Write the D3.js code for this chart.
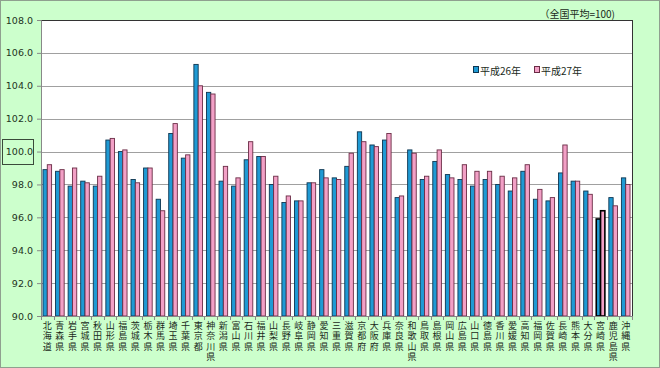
<!DOCTYPE html>
<html>
<head>
<meta charset="utf-8">
<script src="https://cdn.jsdelivr.net/npm/d3@7"></script>
<style>
  html, body { margin: 0; padding: 0; background: #fff; }
  svg { display: block; }
</style>
</head>
<body>
<svg id="chart" width="660" height="368"></svg>
<script>
// prefectures, in the order of the source chart
const prefectures = ["北海道","青森県","岩手県","宮城県","秋田県","山形県","福島県","茨城県","栃木県","群馬県",
	"埼玉県","千葉県","東京都","神奈川県","新潟県","富山県","石川県","福井県","山梨県","長野県",
	"岐阜県","静岡県","愛知県","三重県","滋賀県","京都府","大阪府","兵庫県","奈良県","和歌山県",
	"鳥取県","島根県","岡山県","広島県","山口県","徳島県","香川県","愛媛県","高知県","福岡県",
	"佐賀県","長崎県","熊本県","大分県","宮崎県","鹿児島県","沖縄県"];

const seriesNames = ["平成26年", "平成27年"];

const h26 = [98.9, 98.8, 97.9, 98.2, 97.9, 100.7, 100.0, 98.3, 99.0, 97.1,
	101.1, 99.6, 105.3, 103.6, 98.2, 97.9, 99.5, 99.7, 98.0, 96.9,
	97.0, 98.1, 98.9, 98.4, 99.1, 101.2, 100.4, 100.7, 97.2, 100.1,
	98.3, 99.4, 98.6, 98.3, 97.9, 98.3, 98.0, 97.6, 98.8, 97.1,
	97.0, 98.7, 98.2, 97.6, 95.9, 97.2, 98.4];

const h27 = [99.2, 98.9, 99.0, 98.1, 98.5, 100.8, 100.1, 98.1, 99.0, 96.4,
	101.7, 99.8, 104.0, 103.5, 99.1, 98.4, 100.6, 99.7, 98.5, 97.3,
	97.0, 98.1, 98.4, 98.3, 99.9, 100.6, 100.3, 101.1, 97.3, 99.9,
	98.5, 100.1, 98.4, 99.2, 98.8, 98.8, 98.5, 98.4, 99.2, 97.7,
	97.2, 100.4, 98.2, 97.4, 96.4, 96.7, 98.0];

const yTicks = [90, 92, 94, 96, 98, 100, 102, 104, 106, 108];
const highlight = "宮崎県";

const colors = ["#1f9ad4", "#f2a0c6"];
const strokes = ["#0d3550", "#6a2c45"];

const svg = d3.select("#chart");
const W = 660, H = 368;
const plot = {left: 41, right: 632, top: 20, bottom: 316};

// background + frame
svg.append("rect")
	.attr("x", 0.5).attr("y", 0.5)
	.attr("width", W - 1).attr("height", H - 1)
	.attr("fill", "#ccffcc")
	.attr("stroke", "#8fa08f");

svg.append("rect")
	.attr("x", plot.left).attr("y", plot.top)
	.attr("width", plot.right - plot.left).attr("height", plot.bottom - plot.top)
	.attr("fill", "#fff");

const x = d3.scaleBand()
	.domain(prefectures)
	.range([plot.left, plot.right])
	.padding(0);

const xs = d3.scaleBand()
	.domain(seriesNames)
	.range([0, x.bandwidth()])
	.paddingInner(0)
	.paddingOuter(0.46);

const y = d3.scaleLinear()
	.domain([90, 108])
	.range([plot.bottom, plot.top]);

// gridlines
svg.append("g")
	.selectAll("line")
	.data(yTicks)
	.join("line")
	.attr("x1", plot.left).attr("x2", plot.right)
	.attr("y1", d => Math.round(y(d)) + 0.5).attr("y2", d => Math.round(y(d)) + 0.5)
	.attr("stroke", d => d === 108 ? "#333" : "#a0a0a0")
	.attr("stroke-width", 1);

// y axis labels
const yAxis = svg.append("g")
	.attr("transform", `translate(${plot.left},0)`)
	.call(d3.axisLeft(y).tickValues(yTicks).tickFormat(d3.format(".1f")).tickSize(4));
yAxis.select(".domain").attr("stroke", "#888");
yAxis.selectAll(".tick line").attr("stroke", "#888");
yAxis.selectAll("text")
	.attr("x", -8)
	.attr("fill", "#223322")
	.style("font-family", "'DejaVu Sans', sans-serif")
	.style("font-size", "9.5px");

// box around the 100.0 label
svg.append("rect")
	.attr("x", 2.5).attr("y", Math.round(y(100)) - 12.5)
	.attr("width", 31).attr("height", 25)
	.attr("fill", "none")
	.attr("stroke", "#3a4a3a")
	.attr("stroke-width", 1);

// bars
const rows = prefectures.map((p, i) => ({name: p, values: [h26[i], h27[i]]}));

const groups = svg.append("g")
	.selectAll("g")
	.data(rows)
	.join("g")
	.attr("transform", d => `translate(${x(d.name)},0)`);

groups.selectAll("rect")
	.data(d => d.values.map((v, k) => ({name: d.name, key: seriesNames[k], k: k, v: v})))
	.join("rect")
	.attr("x", d => xs(d.key))
	.attr("y", d => y(d.v))
	.attr("width", xs.bandwidth())
	.attr("height", d => y(90) - y(d.v))
	.attr("fill", d => colors[d.k])
	.attr("stroke", d => d.name === highlight ? "#000" : strokes[d.k])
	.attr("stroke-width", d => d.name === highlight ? 1.6 : 0.9);

// x axis line and ticks
svg.append("line")
	.attr("x1", plot.left).attr("x2", plot.right)
	.attr("y1", plot.bottom + 0.5).attr("y2", plot.bottom + 0.5)
	.attr("stroke", "#888");

svg.append("g")
	.selectAll("line")
	.data(prefectures.concat(["end"]))
	.join("line")
	.attr("x1", (d, i) => Math.round(i < prefectures.length ? x(d) : plot.right) + 0.5)
	.attr("x2", (d, i) => Math.round(i < prefectures.length ? x(d) : plot.right) + 0.5)
	.attr("y1", plot.bottom).attr("y2", plot.bottom + 4)
	.attr("stroke", "#888");

// right border of the plot
svg.append("line")
	.attr("x1", plot.right + 0.5).attr("x2", plot.right + 0.5)
	.attr("y1", plot.top).attr("y2", plot.bottom)
	.attr("stroke", "#333");

// vertical category labels, one character per text so they stack
const labelChars = [];
prefectures.forEach(p => {
	Array.from(p).forEach((c, i) => labelChars.push({name: p, c: c, i: i}));
});

svg.append("g")
	.selectAll("text")
	.data(labelChars)
	.join("text")
	.attr("x", d => x(d.name) + x.bandwidth() / 2)
	.attr("y", d => 325 + d.i * 10.5)
	.attr("text-anchor", "middle")
	.attr("dominant-baseline", "central")
	.attr("fill", "#1a2a1a")
	.style("font-family", "'Noto Sans CJK JP', sans-serif")
	.style("font-size", "9px")
	.text(d => d.c);

// legend
const legend = svg.append("g")
	.attr("transform", "translate(473,70)")
	.selectAll("g")
	.data(seriesNames)
	.join("g")
	.attr("transform", (d, i) => `translate(${i * 61},0)`);

legend.append("rect")
	.attr("x", 0.5).attr("y", -3.5)
	.attr("width", 5).attr("height", 6)
	.attr("fill", (d, i) => colors[i])
	.attr("stroke", (d, i) => strokes[i]);

legend.append("text")
	.attr("x", 7).attr("y", 0)
	.attr("dominant-baseline", "central")
	.attr("fill", "#1a2a1a")
	.style("font-family", "'Noto Sans CJK JP', sans-serif")
	.style("font-size", "10px")
	.text(d => d);

// unit note
svg.append("text")
	.attr("x", 615).attr("y", 13)
	.attr("text-anchor", "end")
	.attr("dominant-baseline", "central")
	.attr("fill", "#1a2a1a")
	.style("font-family", "'Noto Sans CJK JP', sans-serif")
	.style("font-size", "10px")
	.text("（全国平均=100)");
</script>
</body>
</html>
